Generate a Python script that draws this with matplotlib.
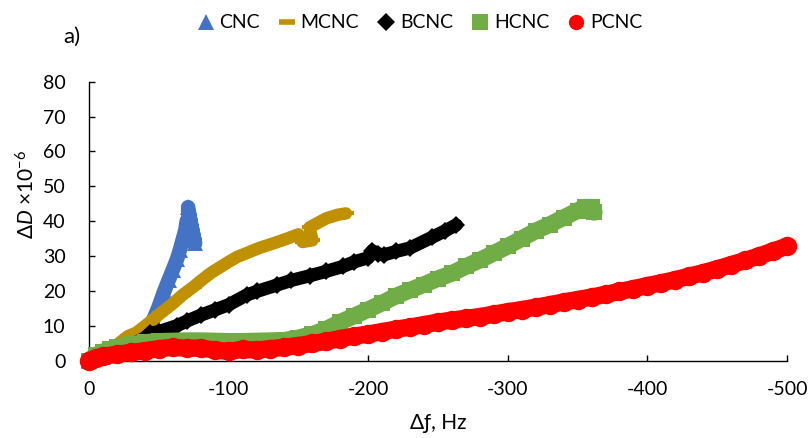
""" dissipation vs frequency shift """
import matplotlib
matplotlib.use("Agg")
import matplotlib.pyplot as plt
from matplotlib.lines import Line2D

plt.rcParams['font.family'] = ['Lato', 'DejaVu Sans']
plt.rcParams['mathtext.fontset'] = 'custom'
plt.rcParams['mathtext.rm'] = 'Lato'
plt.rcParams['mathtext.it'] = 'Lato:italic'
plt.rcParams['axes.unicode_minus'] = False

# data (delta f in Hz, delta D in 1e-6)
cnc_x = [0, -10, -20, -30, -40, -46, -50, -54, -57, -60, -63, -65, -67, -69, -70, -72, -76, -71, -73, -71]
cnc_y = [0, 1, 2.5, 4, 6.5, 11.6, 15.5, 20, 23, 26, 29, 31.6, 34.5, 37.4, 40, 41, 33.6, 43, 39, 44]

mcnc_x = [0, -10, -20, -28, -34, -42, -51, -59, -67, -75, -82, -88, -94, -100, -106, -114, -122,
          -132, -142, -150, -153, -160, -158, -164, -170, -178, -184]
mcnc_y = [0, 2, 4.5, 7, 8, 10.5, 13.5, 16, 18.8, 21.2, 23.5, 25.3, 26.8, 28.3, 29.7, 31, 32.3,
          33.6, 35, 36.2, 34, 34.5, 38.2, 39.5, 40.8, 41.8, 42.2]

bcnc_x = [0, -10, -20, -30, -40, -44, -50, -63, -70, -80, -90, -100, -113, -120, -135, -145, -158,
          -170, -182, -190, -200, -203, -207, -211, -220, -230, -246, -255, -263]
bcnc_y = [0, 1.5, 3, 4.5, 6.5, 7.8, 8.3, 10, 11.3, 13, 14.5, 16, 18.8, 19.8, 21.7, 23, 24.3,
          25.6, 27, 28.3, 29.5, 31.5, 30.6, 30.3, 31.3, 32.3, 35.4, 37.2, 38.9]

hcnc_x = [0, -5, -10, -15, -20, -30, -40, -50, -60, -70, -80, -90, -100, -110, -120, -130, -140,
          -150, -160, -170, -180, -190, -200, -210, -220, -230, -240, -250, -260, -270, -280,
          -290, -300, -310, -320, -330, -340, -350, -355, -360, -362]
hcnc_y = [0, 1.5, 2.5, 3.2, 3.8, 4.6, 5.2, 5.5, 5.6, 5.7, 5.7, 5.6, 5.5, 5.5, 5.6, 5.7, 5.8,
          6.5, 7.5, 9.0, 11.0, 12.8, 14.6, 16.5, 18.5, 20.2, 21.8, 23.5, 25, 27, 28.8,
          30.8, 32.8, 35, 37.2, 39, 41, 43, 44, 44, 42.5]

pcnc_x = [0, -5, -10, -20, -30, -40, -50, -60, -70, -80, -90, -100, -110, -120, -130, -140, -150,
          -160, -170, -180, -190, -200, -210, -220, -230, -240, -250, -260, -270, -280, -290,
          -300, -310, -320, -330, -340, -350, -360, -370, -380, -390, -400, -410, -420, -430,
          -440, -450, -460, -470, -480, -490, -500]
pcnc_y = [0, 0.7, 1.2, 1.8, 2.3, 2.8, 3.4, 3.8, 3.5, 3.6, 3.0, 2.6, 3.2, 3.0, 3.4, 3.8, 4.3,
          4.9, 5.5, 6.3, 7.0, 7.6, 8.3, 9.0, 9.6, 10.3, 11.0, 11.6, 12.1, 12.6, 13.3,
          14.0, 14.6, 15.3, 16.0, 16.8, 17.5, 18.2, 19.0, 19.8, 20.6, 21.5, 22.3, 23.2, 24.2,
          25.2, 26.3, 27.5, 28.7, 30.0, 31.4, 32.8]

labels = ['CNC', 'MCNC', 'BCNC', 'HCNC', 'PCNC']
colors = ['#4472C4', '#BF9000', '#000000', '#70AD47', '#FF0000']


def main():
    fig = plt.figure(figsize=(8.09, 4.38), dpi=100)
    ax = fig.add_axes([89 / 809, 1 - 360.5 / 438, 698 / 809, 278.8 / 438])

    # x, y, marker, marker size, line width (all pt)
    series = [
        (cnc_x, cnc_y, '^', 11, 10.5),
        (mcnc_x, mcnc_y, '_', 11, 9),
        (bcnc_x, bcnc_y, 'D', 9, 9.5),
        (hcnc_x, hcnc_y, 's', 11, 12),
        (pcnc_x, pcnc_y, 'o', 14, 12.5),
    ]
    for i, (xs, ys, mk, ms, lw) in enumerate(series):
        ax.plot(xs, ys, color=colors[i], lw=lw, marker=mk, ms=ms, mew=3 if mk == '_' else 0,
                solid_joinstyle='round', solid_capstyle='round', clip_on=False, zorder=2 + i)

    ax.set_xlim(0, -500)
    ax.set_ylim(0, 80)
    ax.set_xticks(range(0, -501, -100))
    ax.set_yticks(range(0, 81, 10))
    for s in ['top', 'right']:
        ax.spines[s].set_visible(False)
    for s in ['left', 'bottom']:
        ax.spines[s].set_linewidth(1.0)
    ax.tick_params(direction='in', length=4, width=1.0, labelsize=14)
    ax.tick_params(axis='x', pad=15)
    ax.tick_params(axis='y', pad=17)

    ax.set_xlabel('Δƒ, Hz', fontsize=15)
    ax.xaxis.set_label_coords(0.5, -0.19)
    ax.set_ylabel(r'Δ$\mathit{D}$ ×10$^{\mathregular{-6}}$', fontsize=15)
    ax.yaxis.set_label_coords(-0.073, 0.594)

    handles = [
        Line2D([], [], ls='none', marker='^', ms=11, mew=0, color=colors[0]),
        Line2D([], [], ls='none', marker='_', ms=12, mew=4, color=colors[1]),
        Line2D([], [], ls='none', marker='D', ms=9, mew=0, color=colors[2]),
        Line2D([], [], ls='none', marker='s', ms=11, mew=0, color=colors[3]),
        Line2D([], [], ls='none', marker='o', ms=11, mew=0, color=colors[4]),
    ]
    fig.legend(handles, labels, loc='center', bbox_to_anchor=(420 / 809, 1 - 23 / 438), ncol=5,
               frameon=False, fontsize=14, handlelength=0.8, handletextpad=0.3, columnspacing=1.0)

    fig.text(63 / 809, 1 - 37 / 438, 'a)', fontsize=16, va='center', ha='left')

    fig.savefig('out.png', dpi=100)


if __name__ == "__main__":
    main()
